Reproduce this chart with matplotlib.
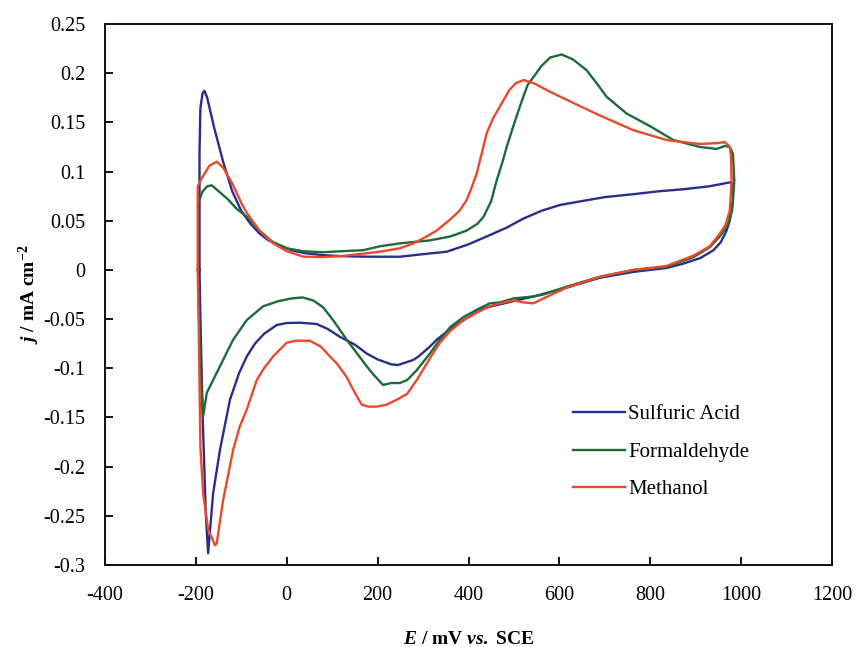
import matplotlib
matplotlib.use("Agg")
import matplotlib.pyplot as plt
from matplotlib.ticker import FixedLocator, FuncFormatter

plt.rcParams['font.family'] = ['Liberation Serif', 'DejaVu Serif']
plt.rcParams['mathtext.fontset'] = 'custom'
plt.rcParams['mathtext.rm'] = 'Liberation Serif:bold'
plt.rcParams['mathtext.it'] = 'Liberation Serif:bold:italic'
plt.rcParams['mathtext.bf'] = 'Liberation Serif:bold'

# Cyclic voltammograms: anodic sweep followed by cathodic sweep (E in mV vs SCE, j in mA cm^-2)
sulfuric_E = [-192, -192, -190, -185, -181, -175, -160, -140, -120, -100, -80, -60, -40, -15, 10, 40,
              80, 120, 168, 205, 249, 300, 352, 400, 450, 484, 520, 560, 601, 650, 700, 763, 820,
              873, 930, 975, 982,
              982, 975, 968, 955, 939, 910, 870, 836, 763, 689, 616, 543, 469, 433, 396, 360, 330,
              315, 290, 278, 245, 230, 200, 176, 150, 117, 90, 66, 30, 0, -22, -50, -70, -88, -105,
              -125, -147, -162, -168, -173, -178, -185, -190, -192]
sulfuric_j = [0.0, 0.12, 0.165, 0.18, 0.182, 0.175, 0.145, 0.11, 0.08, 0.06, 0.047, 0.037, 0.03,
              0.025, 0.02, 0.017, 0.015, 0.014, 0.0135, 0.0134, 0.0134, 0.016, 0.0185, 0.026, 0.036,
              0.043, 0.052, 0.060, 0.066, 0.070, 0.074, 0.077, 0.080, 0.082, 0.085, 0.089, 0.088,
              0.07, 0.05, 0.040, 0.028, 0.02, 0.012, 0.006, 0.002, -0.002, -0.008, -0.018, -0.027,
              -0.035, -0.039, -0.049, -0.06, -0.071, -0.078, -0.088, -0.0916, -0.0967, -0.096,
              -0.091, -0.085, -0.076, -0.068, -0.060, -0.055, -0.0537, -0.054, -0.056, -0.065,
              -0.075, -0.088, -0.105, -0.132, -0.183, -0.227, -0.26, -0.288, -0.25, -0.15, -0.05, 0.0]

formaldehyde_E = [-195, -195, -185, -175, -165, -150, -130, -110, -88, -60, -30, 0, 36, 80, 120, 168,
                  205, 249, 315, 360, 396, 420, 433, 450, 462, 475, 484, 500, 513, 530, 543, 560,
                  580, 605, 630, 660, 685, 704, 748, 800, 851, 909, 946, 964, 975, 982,
                  985, 980, 970, 953, 931, 895, 836, 763, 689, 616, 565, 543, 499, 469, 447, 420,
                  389, 360, 337, 315, 286, 265, 249, 230, 212, 190, 176, 150, 132, 102, 80, 58, 35,
                  10, -20, -52, -88, -118, -147, -176, -184, -190, -194, -195]
formaldehyde_j = [0.0, 0.068, 0.08, 0.085, 0.086, 0.08, 0.072, 0.062, 0.054, 0.04, 0.028, 0.022,
                  0.019, 0.018, 0.019, 0.020, 0.024, 0.027, 0.030, 0.034, 0.040, 0.047, 0.054,
                  0.070, 0.091, 0.11, 0.125, 0.148, 0.166, 0.188, 0.196, 0.207, 0.216, 0.219,
                  0.214, 0.203, 0.188, 0.176, 0.159, 0.146, 0.132, 0.125, 0.123, 0.126, 0.125,
                  0.118,
                  0.09, 0.06, 0.045, 0.034, 0.023, 0.013, 0.003, 0.0, -0.007, -0.017, -0.025,
                  -0.027, -0.029, -0.033, -0.034, -0.040, -0.048, -0.058, -0.071, -0.085, -0.102,
                  -0.112, -0.115, -0.115, -0.117, -0.106, -0.098, -0.082, -0.071, -0.051, -0.038,
                  -0.031, -0.028, -0.029, -0.032, -0.037, -0.051, -0.071, -0.098, -0.125, -0.149,
                  -0.10, -0.03, 0.0]

methanol_E = [-196, -196, -185, -170, -154, -140, -120, -100, -88, -60, -30, -15, 0, 36, 80, 120,
              168, 205, 249, 279, 308, 330, 359, 380, 396, 408, 418, 430, 440, 455, 469, 490, 505,
              521, 543, 580, 616, 689, 763, 836, 909, 950, 964, 975, 978,
              979, 975, 965, 950, 931, 895, 836, 763, 689, 616, 565, 543, 520, 499, 469, 447, 420,
              389, 360, 337, 315, 286, 265, 242, 220, 198, 180, 165, 150, 132, 110, 95, 75, 51, 20,
              0, -30, -50, -66, -88, -104, -118, -140, -150, -154, -158, -165, -173, -184, -190,
              -194, -196]
methanol_j = [0.0, 0.085, 0.095, 0.106, 0.110, 0.104, 0.088, 0.068, 0.058, 0.04, 0.027, 0.023,
              0.019, 0.0135, 0.013, 0.014, 0.0165, 0.0185, 0.022, 0.027, 0.034, 0.040, 0.051,
              0.060, 0.071, 0.085, 0.098, 0.12, 0.139, 0.155, 0.166, 0.183, 0.190, 0.193, 0.190,
              0.181, 0.173, 0.157, 0.142, 0.132, 0.128, 0.129, 0.130, 0.125, 0.115,
              0.09, 0.06, 0.045, 0.035, 0.024, 0.0145, 0.004, 0.0, -0.007, -0.018, -0.029, -0.034,
              -0.033, -0.031, -0.034, -0.037, -0.043, -0.051, -0.062, -0.074, -0.090, -0.112,
              -0.126, -0.132, -0.137, -0.139, -0.139, -0.137, -0.125, -0.109, -0.095, -0.088,
              -0.078, -0.072, -0.072, -0.074, -0.088, -0.100, -0.112, -0.142, -0.160, -0.183,
              -0.234, -0.265, -0.278, -0.280, -0.272, -0.264, -0.227, -0.18, -0.05, 0.0]

series_names = ["Sulfuric Acid", "Formaldehyde", "Methanol"]
x_ticks = [-400, -200, 0, 200, 400, 600, 800, 1000, 1200]
y_ticks = [0.25, 0.2, 0.15, 0.1, 0.05, 0, -0.05, -0.1, -0.15, -0.2, -0.25, -0.3]

colors = ["#2a2d8c", "#1e6a3c", "#ea4a2c"]

fig = plt.figure(figsize=(8.56, 6.47), dpi=100)
ax = fig.add_axes([105 / 856, 1 - 565 / 647, 727 / 856, 541 / 647])

for E, j, name, c in zip([sulfuric_E, formaldehyde_E, methanol_E],
                         [sulfuric_j, formaldehyde_j, methanol_j],
                         series_names, colors):
    ax.plot(E, j, color=c, lw=1.7, label=name, solid_joinstyle='round')

ax.set_xlim(-400, 1200)
ax.set_ylim(-0.3, 0.25)
ax.xaxis.set_major_locator(FixedLocator(x_ticks))
ax.yaxis.set_major_locator(FixedLocator(y_ticks))
ax.xaxis.set_major_formatter(FuncFormatter(lambda v, p: f"{v:g}"))
ax.yaxis.set_major_formatter(FuncFormatter(lambda v, p: f"{round(v, 2):g}"))
ax.tick_params(axis='both', direction='in', length=6, width=1.3, labelsize=14.5,
               top=False, right=False)
ax.tick_params(axis='x', pad=15)
ax.tick_params(axis='y', pad=14)
for s in ax.spines.values():
    s.set_linewidth(1.4)
    s.set_color("#111111")

ax.set_xlabel(r"$E$ / mV $vs.$ SCE", fontsize=14, fontweight='bold', labelpad=19)
ax.set_ylabel(r"$j$ / mA cm$^{-2}$", fontsize=14, fontweight='bold', labelpad=1)

leg = ax.legend(loc='upper left', bbox_to_anchor=(0.644, 0.296), frameon=False,
                fontsize=15, handlelength=2.5, handletextpad=0.15, labelspacing=0.86,
                borderpad=0, borderaxespad=0)

fig.savefig("out.png", dpi=100, facecolor='white')
